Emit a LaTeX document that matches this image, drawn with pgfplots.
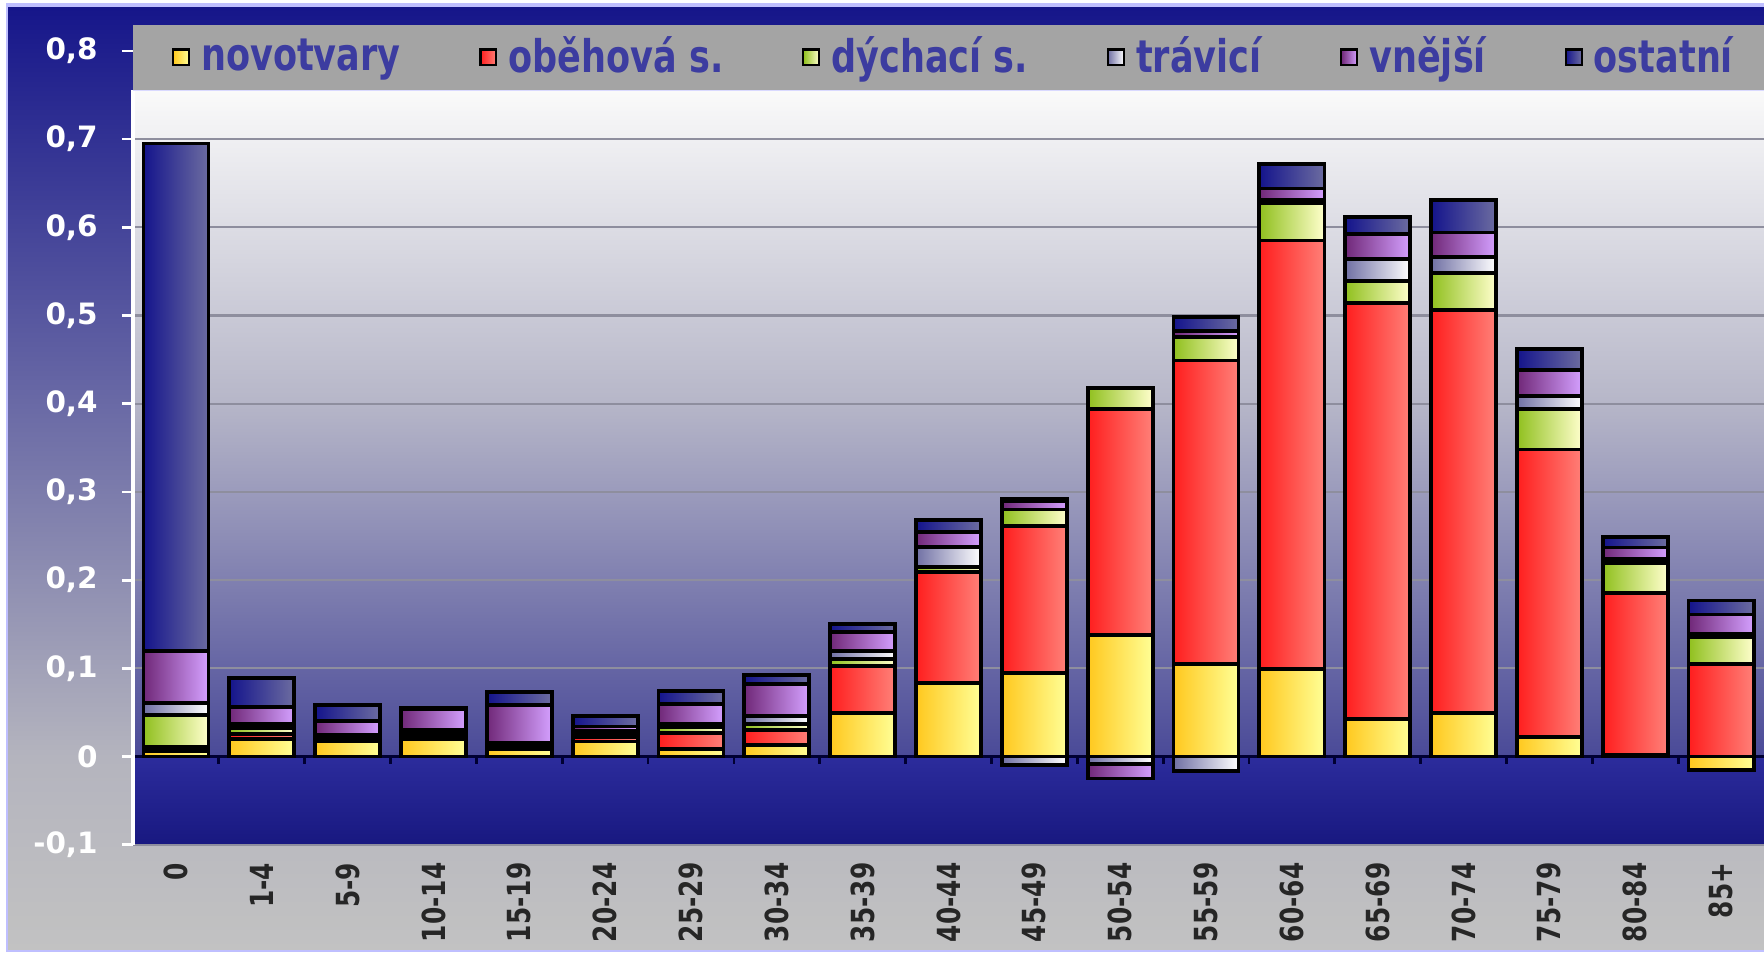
\documentclass[border=0pt]{standalone}
\usepackage{pgfplots}
\pgfplotsset{compat=1.18}
\usepackage{pgfplotstable}
\usepackage{fontspec}
\setmainfont{DejaVu Sans}
\newfontfamily\condfont[FakeStretch=0.78]{DejaVu Sans}

\definecolor{outertop}{HTML}{16168A}
\definecolor{outermid}{HTML}{B4B4BE}
\definecolor{outerbot}{HTML}{C2C2C2}
\definecolor{plottop}{HTML}{FAFAFA}
\definecolor{plotmid}{HTML}{B6B6C8}
\definecolor{plotzero}{HTML}{4A4A98}
\definecolor{negtop}{HTML}{2C2C9C}
\definecolor{negbot}{HTML}{181880}
\definecolor{legband}{HTML}{A4A4A4}
\definecolor{legtext}{HTML}{3C3CA0}
\definecolor{gridc}{HTML}{8E8E9E}
\definecolor{novL}{HTML}{FFC81E}
\definecolor{novR}{HTML}{FFFF96}
\definecolor{obeL}{HTML}{FF1E1E}
\definecolor{obeR}{HTML}{FF8078}
\definecolor{dycL}{HTML}{90C01E}
\definecolor{dycR}{HTML}{FFFFCC}
\definecolor{traL}{HTML}{7070A4}
\definecolor{traR}{HTML}{FFFFFF}
\definecolor{vneL}{HTML}{702878}
\definecolor{vneR}{HTML}{D4A0FF}
\definecolor{ostL}{HTML}{14148C}
\definecolor{ostR}{HTML}{6C6CA0}

% one horizontal gradient per bar: each series path spans bars 0..18
\newcommand\mkbarshade[3]{%
  \gdef\shspec{color(0bp)=(#2)}%
  \foreach \k in {0,...,18}{%
    \pgfmathsetmacro\shA{25+\k*2.66559}%
    \pgfmathsetmacro\shB{\shA+2.0194}%
    \xdef\shspec{\shspec; color(\shA bp)=(#2); color(\shB bp)=(#3)}%
  }%
  \xdef\shspec{\shspec; color(100bp)=(#3)}%
  \edef\tmp{\noexpand\pgfdeclarehorizontalshading{#1}{100bp}{\shspec}}\tmp
}
\mkbarshade{novsh}{novL}{novR}
\mkbarshade{obesh}{obeL}{obeR}
\mkbarshade{dycsh}{dycL}{dycR}
\mkbarshade{trash}{traL}{traR}
\mkbarshade{vnesh}{vneL}{vneR}
\mkbarshade{ostsh}{ostL}{ostR}

\pgfplotstableread{
x nov obe dych trav vnej ost
0 0.006 0.005 0.036 0.014 0.059 0.575
1 0.020 0.006 0.006 0.005 0.019 0.033
2 0.017 0.003 0.002 0.003 0.015 0.018
3 0.020 0.003 0.003 0.004 0.024 0.001
4 0.008 0.003 0.002 0.003 0.042 0.015
5 0.017 0.005 0.003 0.004 0.005 0.012
6 0.009 0.018 0.006 0.004 0.023 0.014
7 0.013 0.017 0.007 0.009 0.036 0.010
8 0.049 0.054 0.008 0.009 0.021 0.009
9 0.083 0.126 0.006 0.023 0.017 0.013
10 0.095 0.166 0.019 0 0.010 0.002
11 0.138 0.256 0.024 0 0 0
12 0.105 0.344 0.027 0 0.006 0.016
13 0.099 0.486 0.043 0.003 0.013 0.028
14 0.043 0.471 0.025 0.025 0.028 0.020
15 0.049 0.457 0.042 0.018 0.028 0.037
16 0.022 0.326 0.046 0.015 0.029 0.024
17 0.002 0.183 0.034 0.005 0.013 0.012
18 0.00001 0.105 0.030 0.004 0.022 0.016
}\posdata

\pgfplotstableread{
x nov trav vnej
0 -0.00001 -0.00001 -0.00001
1 -0.00001 -0.00001 -0.00001
2 -0.00001 -0.00001 -0.00001
3 -0.00001 -0.00001 -0.00001
4 -0.00001 -0.00001 -0.00001
5 -0.00001 -0.00001 -0.00001
6 -0.00001 -0.00001 -0.00001
7 -0.00001 -0.00001 -0.00001
8 -0.00001 -0.00001 -0.00001
9 -0.00001 -0.00001 -0.00001
10 -0.00001 -0.010 -0.00001
11 -0.00001 -0.008 -0.017
12 -0.00001 -0.016 -0.00001
13 -0.00001 -0.00001 -0.00001
14 -0.00001 -0.00001 -0.00001
15 -0.00001 -0.00001 -0.00001
16 -0.00001 -0.00001 -0.00001
17 -0.00001 -0.00001 -0.00001
18 -0.015 -0.00001 -0.00001
}\negdata

\pgfplotsset{
  common/.style={
    scale only axis, width=471.5pt, height=229.5pt,
    xmin=-0.5, xmax=18.5, ymin=-0.1, ymax=0.8,
    ybar stacked, bar width=18.8pt,
  },
  seg/.style={draw=black, line width=1.1pt, shade, shading=#1},
  mylegimg/.style 2 args={legend image code/.code={\draw[black, line width=0.6pt, left color=#1, right color=#2] (0pt,-2.3pt) rectangle (4.6pt,2.3pt);}},
}

\begin{document}
\begin{tikzpicture}
% outer background
\fill[white] (-38.45pt,-32.4pt) rectangle (471.5pt,244.2pt);
\fill[blue!25!white] (-36.8pt,-31pt) rectangle (471.5pt,243.2pt);
\shade[top color=outertop, bottom color=outermid] (-36.1pt,25.5pt) rectangle (471.5pt,241.9pt);
\shade[top color=outermid, bottom color=outerbot] (-36.1pt,-30.4pt) rectangle (471.5pt,25.5pt);
% plot area background
\shade[top color=plottop, bottom color=plotmid] (0pt,127.5pt) rectangle (471.5pt,218.2pt);
\shade[top color=plotmid, bottom color=plotzero] (0pt,25.5pt) rectangle (471.5pt,127.5pt);
\shade[top color=negtop, bottom color=negbot] (0pt,0pt) rectangle (471.5pt,25.5pt);

\begin{axis}[common, clip=false,
  axis x line*=bottom, axis y line*=left,
  axis line style={draw=none},
  ymajorgrids, major grid style={gridc, line width=0.6pt},
  ytick={-0.1,0,0.1,0.2,0.3,0.4,0.5,0.6,0.7,0.8},
  xtick={0,...,18},
  xticklabels={0,1-4,5-9,10-14,15-19,20-24,25-29,30-34,35-39,40-44,45-49,50-54,55-59,60-64,65-69,70-74,75-79,80-84,85+},
  tick align=outside, major tick length=3.2pt,
  ytick style={white, line width=0.8pt},
  xtick style={draw=none},
  scaled y ticks=false,
  /pgf/number format/.cd, use comma, fixed, precision=1, assume math mode=true, /pgfplots/.cd,
  yticklabel style={font=\bfseries\fontsize{8.5}{10}\selectfont, text=white, xshift=-3.5pt},
  xticklabel style={rotate=90, anchor=east, inner sep=0pt, font=\condfont\bfseries\fontsize{9.2}{11}\selectfont, text=black!85, xshift=-1.8pt},
  legend columns=6,
  legend style={at={(axis description cs:0.0235,0.9917)}, anchor=west, draw=none, fill=none,
    inner sep=0pt, font=\condfont\bfseries\fontsize{13}{14}\selectfont, text=legtext,
    nodes={inner xsep=1.2pt, inner ysep=0pt},
    /tikz/every odd column/.append style={column sep=2pt},
    /tikz/every even column/.append style={column sep=21.6pt}},
]
\fill[legband] (axis cs:-0.5,0.7557) rectangle (axis cs:18.5,0.8294);
\draw[white!85!blue, line width=0.6pt] (axis cs:-0.5,0.7557) -- (axis cs:18.5,0.7557);
\addplot[seg=novsh, mylegimg={novL}{novR}] table[x=x,y=nov]{\posdata};
\addlegendentry{novotvary}
\addplot[seg=obesh, mylegimg={obeL}{obeR}] table[x=x,y=obe]{\posdata};
\addlegendentry{oběhová s.}
\addplot[seg=dycsh, mylegimg={dycL}{dycR}] table[x=x,y=dych]{\posdata};
\addlegendentry{dýchací s.}
\addplot[seg=trash, mylegimg={traL}{traR}] table[x=x,y=trav]{\posdata};
\addlegendentry{trávicí}
\addplot[seg=vnesh, mylegimg={vneL}{vneR}] table[x=x,y=vnej]{\posdata};
\addlegendentry{vnější}
\addplot[seg=ostsh, mylegimg={ostL}{ostR}] table[x=x,y=ost]{\posdata};
\addlegendentry{ostatní}
\draw[white, line width=1.2pt] (axis cs:-0.5,-0.1) -- (axis cs:-0.5,0.7557);
\draw[black!80!blue, line width=1pt] (axis cs:-0.5,0) -- (axis cs:18.5,0);
\pgfplotsinvokeforeach{0,...,18}{\draw[black!80!blue, line width=0.8pt] (axis cs:#1-0.5,0) -- ++(0pt,-2.3pt);}
\end{axis}

\begin{axis}[common, hide axis]
\addplot[seg=novsh] table[x=x,y=nov]{\negdata};
\addplot[seg=trash] table[x=x,y=trav]{\negdata};
\addplot[seg=vnesh] table[x=x,y=vnej]{\negdata};
\end{axis}

\pgfresetboundingbox
\path[use as bounding box] (-38.45pt,-32.4pt) rectangle (471.5pt,244.2pt);
\end{tikzpicture}
\end{document}
